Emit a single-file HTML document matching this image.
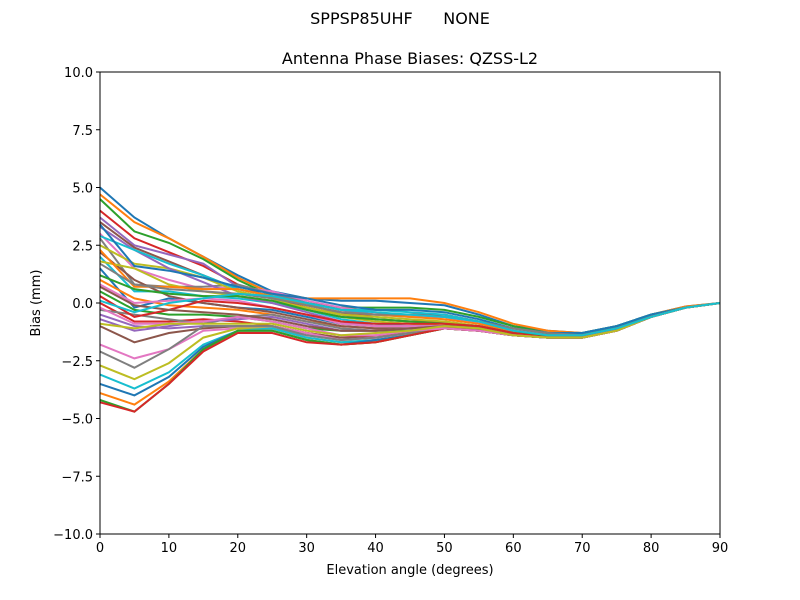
<!DOCTYPE html>
<html><head><meta charset="utf-8"><style>
body{margin:0;background:#fff}
svg{display:block;font-family:"DejaVu Sans","Liberation Sans",sans-serif}
</style></head><body>
<svg id="chart" width="800" height="600" viewBox="0 0 800 600">
<rect width="800" height="600" fill="#fff"/>
<text x="400" y="24" text-anchor="middle" font-size="16" xml:space="preserve" style="white-space:pre">SPPSP85UHF      NONE</text>
<text x="410" y="64" text-anchor="middle" font-size="16">Antenna Phase Biases: QZSS-L2</text>
<g id="lines"></g>
<g id="axes"></g>
<text x="410" y="574" text-anchor="middle" font-size="13">Elevation angle (degrees)</text>
<text transform="translate(40,303) rotate(-90)" text-anchor="middle" font-size="13">Bias (mm)</text>
</svg>
<script>
const elevations=[0,5,10,15,20,25,30,35,40,45,50,55,60,65,70,75,80,85,90];
const xTicks=[0,10,20,30,40,50,60,70,80,90];
const yTicks=[-10,-7.5,-5,-2.5,0,2.5,5,7.5,10];
const yTickLabels=["\u221210.0","\u22127.5","\u22125.0","\u22122.5","0.0","2.5","5.0","7.5","10.0"];
const series=[
[5.0,3.7,2.8,2.0,1.2,0.5,0.2,0.1,0.1,0.0,-0.1,-0.5,-1.0,-1.2,-1.3,-1.0,-0.5,-0.15,0],
[4.7,3.5,2.8,2.0,1.1,0.4,0.2,0.2,0.2,0.2,0.0,-0.4,-0.9,-1.2,-1.3,-1.0,-0.5,-0.15,0],
[4.5,3.1,2.6,1.9,1.0,0.3,0.0,-0.2,-0.2,-0.2,-0.3,-0.6,-1.0,-1.3,-1.3,-1.0,-0.5,-0.2,0],
[4.0,2.8,2.2,1.6,0.8,0.2,-0.2,-0.5,-0.5,-0.5,-0.5,-0.8,-1.1,-1.3,-1.4,-1.1,-0.6,-0.2,0],
[3.7,2.5,2.1,1.7,0.7,0.5,0.0,-0.3,-0.5,-0.6,-0.6,-0.9,-1.2,-1.4,-1.4,-1.1,-0.6,-0.2,0],
[3.5,2.4,1.8,1.2,0.6,0.3,-0.1,-0.4,-0.7,-0.8,-0.8,-1.0,-1.2,-1.4,-1.4,-1.1,-0.6,-0.2,0],
[3.0,1.5,1.0,0.6,0.7,0.5,0.1,-0.2,-0.4,-0.6,-0.6,-0.9,-1.2,-1.4,-1.4,-1.1,-0.6,-0.2,0],
[2.8,0.8,0.7,0.7,0.8,0.4,0.0,-0.5,-0.7,-0.8,-0.9,-1.1,-1.3,-1.4,-1.4,-1.1,-0.6,-0.2,0],
[2.5,1.7,1.5,1.1,0.5,0.2,-0.3,-0.6,-0.8,-0.9,-1.0,-1.1,-1.3,-1.5,-1.5,-1.2,-0.6,-0.2,0],
[2.0,0.5,0.5,0.3,0.2,0.0,-0.3,-0.7,-0.9,-1.0,-1.0,-1.1,-1.4,-1.5,-1.5,-1.2,-0.6,-0.2,0],
[1.5,-0.2,0.2,0.0,-0.2,-0.3,-0.6,-0.9,-1.0,-1.0,-1.0,-1.1,-1.3,-1.5,-1.5,-1.2,-0.6,-0.2,0],
[1.0,0.2,-0.1,-0.2,-0.3,-0.5,-0.8,-1.0,-1.1,-1.1,-1.0,-1.1,-1.4,-1.5,-1.5,-1.2,-0.6,-0.2,0],
[0.5,-0.3,-0.5,-0.5,-0.6,-0.8,-1.1,-1.2,-1.2,-1.2,-1.1,-1.2,-1.4,-1.5,-1.5,-1.2,-0.6,-0.2,0],
[0.0,-0.8,-0.8,-0.7,-0.8,-1.0,-1.3,-1.5,-1.4,-1.3,-1.1,-1.2,-1.4,-1.5,-1.5,-1.2,-0.6,-0.2,0],
[-0.5,-1.0,-1.1,-1.0,-1.0,-1.1,-1.4,-1.6,-1.5,-1.3,-1.1,-1.2,-1.4,-1.5,-1.5,-1.2,-0.6,-0.2,0],
[-1.0,-1.7,-1.3,-1.1,-1.0,-1.0,-1.3,-1.5,-1.5,-1.3,-1.1,-1.2,-1.4,-1.5,-1.5,-1.2,-0.6,-0.2,0],
[-1.8,-2.4,-2.0,-1.2,-1.1,-1.0,-1.3,-1.6,-1.5,-1.3,-1.1,-1.2,-1.4,-1.5,-1.5,-1.2,-0.6,-0.2,0],
[-2.1,-2.8,-2.0,-1.0,-1.0,-1.0,-1.4,-1.6,-1.5,-1.3,-1.1,-1.2,-1.4,-1.5,-1.5,-1.2,-0.6,-0.2,0],
[-2.7,-3.3,-2.6,-1.5,-1.1,-1.1,-1.5,-1.7,-1.6,-1.4,-1.1,-1.2,-1.4,-1.5,-1.5,-1.2,-0.6,-0.2,0],
[-3.1,-3.7,-3.0,-1.8,-1.2,-1.1,-1.5,-1.7,-1.6,-1.4,-1.1,-1.2,-1.4,-1.5,-1.5,-1.2,-0.6,-0.2,0],
[-3.5,-4.0,-3.2,-1.9,-1.2,-1.2,-1.6,-1.8,-1.6,-1.4,-1.1,-1.2,-1.4,-1.5,-1.5,-1.2,-0.6,-0.2,0],
[-3.9,-4.4,-3.4,-2.0,-1.2,-1.2,-1.6,-1.8,-1.7,-1.4,-1.1,-1.2,-1.4,-1.5,-1.5,-1.2,-0.6,-0.2,0],
[-4.2,-4.7,-3.5,-2.0,-1.2,-1.2,-1.6,-1.8,-1.7,-1.4,-1.1,-1.2,-1.4,-1.5,-1.5,-1.2,-0.6,-0.2,0],
[-4.3,-4.7,-3.5,-2.1,-1.3,-1.3,-1.7,-1.8,-1.7,-1.4,-1.1,-1.2,-1.4,-1.5,-1.5,-1.2,-0.6,-0.2,0],
[3.3,2.3,1.5,0.9,0.3,0.0,-0.4,-0.8,-1.0,-1.0,-1.0,-1.1,-1.3,-1.5,-1.5,-1.2,-0.6,-0.2,0],
[2.2,1.0,0.3,0.0,-0.2,-0.4,-0.7,-1.0,-1.1,-1.1,-1.0,-1.1,-1.4,-1.5,-1.5,-1.2,-0.6,-0.2,0],
[0.8,0.0,0.1,0.2,0.1,-0.2,-0.5,-0.9,-1.0,-1.0,-1.0,-1.1,-1.4,-1.5,-1.5,-1.2,-0.6,-0.2,0],
[-0.3,-0.5,-0.7,-0.9,-0.6,-0.5,-0.8,-1.1,-1.2,-1.1,-1.0,-1.1,-1.4,-1.5,-1.5,-1.2,-0.6,-0.2,0],
[1.8,1.5,0.8,0.5,0.3,0.1,-0.2,-0.5,-0.6,-0.7,-0.8,-1.0,-1.3,-1.4,-1.4,-1.1,-0.6,-0.2,0],
[2.9,2.3,1.7,1.2,0.6,0.3,0.0,-0.3,-0.3,-0.4,-0.5,-0.8,-1.1,-1.3,-1.3,-1.0,-0.5,-0.2,0],
[3.4,1.6,1.4,1.1,0.7,0.4,0.2,-0.1,-0.3,-0.3,-0.4,-0.7,-1.1,-1.3,-1.3,-1.0,-0.5,-0.2,0],
[2.3,0.7,0.7,0.6,0.6,0.3,-0.1,-0.4,-0.5,-0.6,-0.7,-0.9,-1.2,-1.4,-1.4,-1.1,-0.6,-0.2,0],
[1.2,0.6,0.4,0.3,0.3,0.1,-0.3,-0.6,-0.7,-0.8,-0.9,-1.0,-1.3,-1.4,-1.4,-1.1,-0.6,-0.2,0],
[0.3,-0.6,-0.3,0.1,0.0,-0.2,-0.5,-0.8,-0.9,-0.9,-0.9,-1.0,-1.3,-1.5,-1.5,-1.2,-0.6,-0.2,0],
[-0.7,-1.2,-1.0,-0.8,-0.7,-0.6,-0.9,-1.2,-1.2,-1.1,-1.0,-1.1,-1.4,-1.5,-1.5,-1.2,-0.6,-0.2,0],
[0.7,-0.1,-0.3,-0.4,-0.5,-0.7,-1.0,-1.2,-1.2,-1.1,-1.0,-1.1,-1.4,-1.5,-1.5,-1.2,-0.6,-0.2,0],
[-0.2,-0.9,-0.9,-0.8,-0.6,-0.8,-1.1,-1.4,-1.4,-1.2,-1.1,-1.2,-1.4,-1.5,-1.5,-1.2,-0.6,-0.2,0],
[1.7,0.8,0.6,0.5,0.4,0.2,-0.1,-0.4,-0.5,-0.5,-0.6,-0.8,-1.1,-1.3,-1.4,-1.1,-0.6,-0.2,0],
[-0.9,-1.1,-0.9,-0.9,-0.9,-0.9,-1.2,-1.4,-1.3,-1.2,-1.0,-1.1,-1.4,-1.5,-1.5,-1.2,-0.6,-0.2,0],
[0.1,-0.4,0.0,0.2,0.4,0.3,0.0,-0.3,-0.4,-0.5,-0.6,-0.8,-1.2,-1.4,-1.4,-1.1,-0.6,-0.2,0]
];
const colors=["#1f77b4","#ff7f0e","#2ca02c","#d62728","#9467bd","#8c564b","#e377c2","#7f7f7f","#bcbd22","#17becf"];
const L=100,R=720,T=72,B=534;
const xs=v=>L+(v-0)/90*(R-L);
const ys=v=>B-(v+10)/20*(B-T);
const NS="http://www.w3.org/2000/svg";
const lg=document.getElementById('lines');
series.forEach((s,i)=>{
  const p=document.createElementNS(NS,'polyline');
  p.setAttribute('points',s.map((v,j)=>xs(elevations[j]).toFixed(1)+','+ys(v).toFixed(1)).join(' '));
  p.setAttribute('fill','none');
  p.setAttribute('stroke',colors[i%10]);
  p.setAttribute('stroke-width','2');
  
  
  lg.appendChild(p);
});
const ax=document.getElementById('axes');
let h='<rect x="'+L+'" y="'+T+'" width="'+(R-L)+'" height="'+(B-T)+'" fill="none" stroke="#000" stroke-width="1"/>';
xTicks.forEach(t=>{const x=xs(t);h+='<line x1="'+x+'" y1="'+B+'" x2="'+x+'" y2="'+(B+4)+'" stroke="#000"/><text x="'+x+'" y="'+(B+18)+'" text-anchor="middle" font-size="13">'+t+'</text>';});
yTicks.forEach((t,i)=>{const y=ys(t);h+='<line x1="'+(L-4)+'" y1="'+y+'" x2="'+L+'" y2="'+y+'" stroke="#000"/><text x="'+(L-7)+'" y="'+(y+5)+'" text-anchor="end" font-size="13">'+yTickLabels[i]+'</text>';});
ax.innerHTML=h;
</script>
</body></html>
